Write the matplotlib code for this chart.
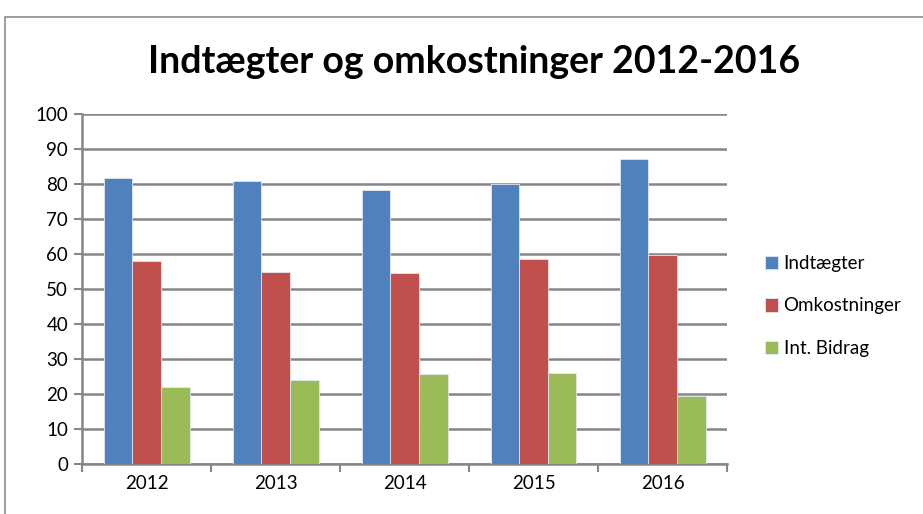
import numpy as np
import matplotlib.pyplot as plt
from matplotlib.patches import Rectangle

years = ["2012", "2013", "2014", "2015", "2016"]
indtaegter = [81.6, 81.0, 78.2, 80.1, 87.1]
omkostninger = [58.1, 54.9, 54.6, 58.5, 59.7]
int_bidrag = [21.9, 24.1, 25.7, 26.0, 19.4]
series_names = ["Indtægter", "Omkostninger", "Int. Bidrag"]
colors = ["#4F81BD", "#C0504D", "#9BBB59"]

plt.rcParams['font.family'] = ['Lato', 'DejaVu Sans']

fig = plt.figure(figsize=(9.23, 5.14), dpi=100)
ax = fig.add_axes([82 / 923, 1 - 464 / 514, (727 - 82) / 923, (464 - 114) / 514])

# chart frame like the Excel chart border
fig.patches.append(Rectangle((5 / 923, -0.1), 1.1, 1.1 - 17 / 514, transform=fig.transFigure,
                             fill=False, edgecolor="#8c8c8c", linewidth=1.2))

x = np.arange(len(years))
w = 2 / 9
for i, (vals, name) in enumerate(zip([indtaegter, omkostninger, int_bidrag], series_names)):
    ax.bar(x + (i - 1) * w, vals, width=w, color=colors[i], label=name,
           edgecolor="#dfe8f3", linewidth=0.6, zorder=3)

ax.set_xlim(-0.5, len(years) - 0.5)
ax.set_ylim(0, 100)
ax.set_yticks(range(0, 101, 10))
ax.set_xticks(x)
ax.set_xticklabels(years)
ax.set_xticks(np.arange(-0.5, len(years), 1), minor=True)
ax.tick_params(axis='x', which='major', length=0, labelsize=13.5, pad=8)
ax.tick_params(axis='x', which='minor', length=6, width=1.5, color="#868686")
ax.tick_params(axis='y', length=6, width=1.5, color="#868686", labelsize=13.5, pad=4)

ax.grid(axis='y', color="#868686", linewidth=1.8, zorder=0)
for s in ["top", "right"]:
    ax.spines[s].set_visible(False)
for s in ["left", "bottom"]:
    ax.spines[s].set_color("#868686")
    ax.spines[s].set_linewidth(1.8)

fig.text(474 / 923, 1 - 62 / 514, "Indtægter og omkostninger 2012-2016", ha="center", va="center",
         fontsize=27, fontweight="bold")

ax.legend(loc="center left", bbox_to_anchor=(748 / 923, 1 - 306 / 514), bbox_transform=fig.transFigure,
          frameon=False, fontsize=13.5, handlelength=0.7, handleheight=0.7, handletextpad=0.3,
          labelspacing=1.35)

fig.savefig("out.png", dpi=100)
